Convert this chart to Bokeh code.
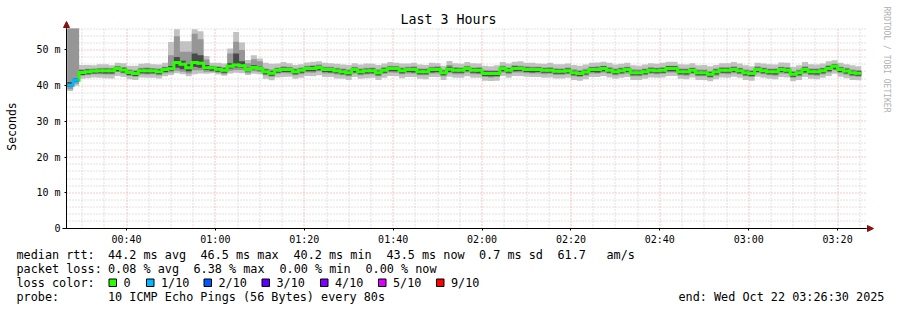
import math
from bokeh.plotting import figure
from bokeh.models import Range1d, FixedTicker, LinearAxis, Arrow, NormalHead
from bokeh.core.properties import value
from bokeh.embed import file_html
from bokeh.resources import INLINE

# ------------------------------------------------------------------ data
title_text = "Last 3 Hours"
end_time = "03:26:30"
window_hours = 3
first_step = "00:26:40"
step_seconds = 80

median_ms = [
    40.1, 41.5, 43.7, 43.9, 44.1, 44.2, 44.2, 44.2, 44.8, 44.4,
    43.7, 43.4, 44.2, 44.2, 44.2, 43.9, 44.5, 44.7, 46.5, 46.0,
    45.0, 46.5, 46.3, 45.0, 45.0, 44.6, 44.3, 45.4, 45.8, 45.6,
    44.5, 45.1, 44.8, 43.9, 43.5, 44.3, 44.5, 44.5, 43.9, 44.3,
    44.8, 44.8, 45.1, 44.5, 44.5, 44.2, 43.9, 43.6, 44.5, 43.9,
    44.2, 44.2, 43.6, 44.3, 44.8, 44.8, 44.2, 44.5, 44.5, 43.9,
    43.9, 44.5, 44.5, 43.6, 44.6, 44.3, 44.3, 44.8, 44.3, 44.3,
    43.4, 43.4, 43.4, 44.8, 44.3, 44.8, 44.8, 44.5, 44.5, 44.5,
    44.3, 44.3, 44.0, 44.0, 44.2, 43.6, 43.4, 43.8, 44.5, 44.5,
    44.8, 44.3, 43.9, 44.2, 44.5, 43.6, 43.6, 43.9, 44.3, 44.2,
    44.3, 44.8, 44.8, 43.9, 43.9, 44.3, 43.6, 43.6, 43.2, 43.9,
    44.3, 44.3, 44.5, 44.2, 43.6, 43.4, 44.5, 44.2, 43.9, 43.9,
    44.5, 44.3, 43.2, 43.6, 44.5, 43.9, 43.9, 44.2, 44.8, 45.4,
    44.5, 44.1, 43.6, 43.5]

ping_max = [
    56.0, 56.0, 45.8, 45.8, 45.7, 46.0, 46.0, 45.7, 46.4, 46.3,
    45.6, 45.6, 46.1, 46.3, 46.0, 45.9, 46.4, 52.2, 55.8, 52.4,
    52.4, 55.8, 55.2, 48.3, 46.4, 46.4, 46.2, 50.4, 55.0, 52.1,
    47.2, 48.5, 47.6, 46.4, 46.1, 46.2, 46.6, 46.3, 45.8, 46.0,
    46.5, 46.7, 46.8, 46.4, 46.3, 46.1, 45.9, 45.8, 46.3, 45.9,
    46.2, 46.1, 45.8, 46.2, 46.6, 46.4, 46.2, 46.2, 46.4, 45.9,
    45.8, 46.4, 46.3, 45.6, 46.9, 46.3, 46.1, 46.6, 46.3, 46.2,
    45.6, 45.4, 45.7, 46.6, 46.2, 46.7, 46.8, 46.4, 46.4, 46.2,
    46.1, 46.4, 46.0, 46.0, 46.2, 45.8, 45.6, 45.9, 46.4, 46.5,
    46.7, 46.4, 45.9, 46.1, 46.4, 45.7, 45.6, 45.9, 46.3, 46.1,
    46.4, 46.7, 46.7, 46.0, 45.9, 46.3, 45.7, 45.8, 45.4, 45.8,
    46.3, 46.3, 46.6, 46.2, 45.7, 45.4, 46.4, 46.2, 46.0, 45.9,
    46.5, 46.4, 45.3, 45.7, 46.6, 46.0, 45.9, 46.2, 46.8, 47.1,
    46.4, 46.0, 45.7, 45.4]

ping_p9 = [
    56.0, 56.0, 44.6, 44.7, 44.8, 44.9, 45.0, 44.9, 45.5, 45.2,
    44.5, 44.3, 45.0, 45.1, 44.9, 44.8, 45.3, 48.5, 53.8, 49.5,
    49.5, 54.5, 53.0, 47.3, 45.6, 45.4, 45.2, 49.0, 52.3, 50.0,
    46.3, 47.4, 46.8, 44.8, 44.5, 45.1, 45.4, 45.3, 44.8, 45.1,
    45.6, 45.7, 45.9, 45.3, 45.3, 45.0, 44.8, 44.5, 45.3, 44.8,
    45.0, 45.1, 44.6, 45.2, 45.6, 45.5, 45.1, 45.3, 45.4, 44.8,
    44.8, 45.3, 45.4, 44.5, 45.8, 45.2, 45.1, 45.6, 45.1, 45.2,
    44.4, 44.3, 44.3, 45.6, 45.1, 45.7, 45.6, 45.4, 45.3, 45.3,
    45.1, 45.2, 44.9, 44.8, 45.1, 44.6, 44.3, 44.7, 45.3, 45.4,
    45.6, 45.2, 44.8, 45.1, 45.3, 44.6, 44.5, 44.8, 45.2, 45.0,
    45.2, 45.6, 45.6, 44.8, 44.8, 45.1, 44.5, 44.5, 44.1, 44.8,
    45.2, 45.2, 45.4, 45.0, 44.5, 44.3, 45.4, 45.1, 44.8, 44.8,
    45.3, 45.2, 44.1, 44.5, 45.4, 44.8, 44.8, 45.0, 45.7, 46.1,
    45.3, 45.0, 44.5, 44.4]

ping_p7 = [
    41.0, 42.0, 44.3, 44.5, 44.6, 44.7, 44.7, 44.7, 45.3, 45.0,
    44.2, 44.0, 44.7, 44.8, 44.7, 44.5, 45.1, 45.5, 48.0, 47.0,
    46.0, 49.0, 48.5, 45.8, 45.5, 45.2, 44.9, 46.3, 49.0, 46.8,
    45.0, 45.7, 45.3, 44.5, 44.1, 44.8, 45.1, 45.0, 44.5, 44.8,
    45.3, 45.4, 45.6, 45.0, 45.0, 44.7, 44.5, 44.2, 45.0, 44.5,
    44.7, 44.8, 44.2, 44.9, 45.3, 45.3, 44.8, 45.0, 45.1, 44.5,
    44.5, 45.0, 45.1, 44.2, 45.3, 44.9, 44.8, 45.3, 44.9, 44.9,
    44.0, 44.0, 44.0, 45.3, 44.9, 45.4, 45.3, 45.1, 45.0, 45.1,
    44.9, 44.9, 44.6, 44.6, 44.8, 44.2, 44.0, 44.4, 45.1, 45.1,
    45.4, 44.9, 44.5, 44.8, 45.1, 44.2, 44.2, 44.5, 44.9, 44.8,
    44.9, 45.4, 45.4, 44.5, 44.5, 44.9, 44.2, 44.2, 43.8, 44.5,
    44.9, 44.9, 45.1, 44.8, 44.2, 44.0, 45.1, 44.8, 44.5, 44.5,
    45.1, 44.9, 43.8, 44.2, 45.1, 44.5, 44.5, 44.8, 45.4, 45.9,
    45.1, 44.7, 44.2, 44.1]

ping_p4 = [
    39.6, 41.0, 43.0, 43.2, 43.4, 43.5, 43.4, 43.4, 44.0, 43.7,
    43.0, 42.7, 43.5, 43.4, 43.5, 43.2, 43.8, 44.1, 45.0, 44.6,
    44.0, 45.2, 45.0, 44.4, 44.2, 43.9, 43.6, 44.8, 45.1, 45.0,
    44.0, 44.6, 44.3, 43.2, 42.8, 43.6, 43.8, 43.8, 43.2, 43.6,
    44.0, 44.0, 44.3, 43.8, 43.7, 43.5, 43.2, 42.9, 43.7, 43.2,
    43.4, 43.5, 42.9, 43.6, 44.0, 44.0, 43.5, 43.8, 43.7, 43.2,
    43.2, 43.7, 43.8, 42.9, 43.8, 43.6, 43.6, 44.0, 43.6, 43.5,
    42.7, 42.6, 42.7, 44.0, 43.6, 44.0, 44.1, 43.8, 43.7, 43.8,
    43.6, 43.6, 43.3, 43.3, 43.5, 42.9, 42.7, 43.1, 43.8, 43.7,
    44.0, 43.6, 43.2, 43.5, 43.8, 42.9, 42.9, 43.2, 43.6, 43.5,
    43.6, 44.0, 44.0, 43.2, 43.1, 43.6, 42.9, 42.9, 42.5, 43.1,
    43.6, 43.6, 43.8, 43.5, 42.9, 42.7, 43.8, 43.5, 43.2, 43.1,
    43.8, 43.6, 42.5, 42.9, 43.7, 43.2, 43.1, 43.5, 44.0, 44.6,
    43.8, 43.4, 42.9, 42.8]

ping_p2 = [
    39.0, 40.5, 42.8, 43.0, 43.2, 43.2, 43.1, 43.1, 43.8, 43.4,
    42.7, 42.5, 43.2, 43.1, 43.2, 42.9, 43.5, 43.7, 44.2, 43.9,
    43.4, 44.3, 44.3, 43.9, 43.9, 43.6, 43.2, 44.2, 44.4, 44.4,
    43.5, 44.0, 43.8, 42.9, 42.5, 43.3, 43.5, 43.4, 42.9, 43.2,
    43.7, 43.6, 44.0, 43.4, 43.4, 43.1, 42.9, 42.6, 43.4, 42.9,
    43.1, 43.2, 42.6, 43.3, 43.7, 43.6, 43.2, 43.4, 43.4, 42.9,
    42.9, 43.4, 43.4, 42.6, 43.5, 43.2, 43.2, 43.7, 43.2, 43.2,
    42.4, 42.3, 42.4, 43.7, 43.2, 43.7, 43.7, 43.5, 43.4, 43.4,
    43.2, 43.3, 43.0, 43.0, 43.2, 42.6, 42.4, 42.8, 43.4, 43.4,
    43.7, 43.3, 42.9, 43.2, 43.4, 42.6, 42.6, 42.9, 43.3, 43.2,
    43.3, 43.7, 43.7, 42.9, 42.8, 43.3, 42.6, 42.6, 42.2, 42.8,
    43.3, 43.2, 43.5, 43.2, 42.6, 42.4, 43.5, 43.2, 42.9, 42.8,
    43.4, 43.3, 42.2, 42.6, 43.4, 42.9, 42.8, 43.2, 43.7, 44.3,
    43.5, 43.1, 42.6, 42.5]

ping_min = [
    38.5, 40.0, 41.9, 42.1, 42.3, 42.2, 42.1, 42.0, 42.7, 42.4,
    41.8, 41.6, 42.3, 42.2, 42.2, 42.0, 42.6, 43.0, 43.5, 43.2,
    42.6, 43.2, 43.4, 43.3, 43.5, 43.1, 42.8, 43.4, 43.6, 43.5,
    43.0, 43.3, 43.2, 41.9, 41.5, 42.3, 42.4, 42.5, 41.9, 42.2,
    42.7, 42.6, 42.9, 42.4, 42.4, 42.0, 41.9, 41.6, 42.4, 41.9,
    42.1, 42.2, 41.6, 42.2, 42.7, 42.6, 42.1, 42.4, 42.4, 41.9,
    41.8, 42.4, 42.4, 41.6, 42.5, 42.2, 42.2, 42.6, 42.2, 42.2,
    41.4, 41.3, 41.4, 42.7, 42.2, 42.7, 42.7, 42.5, 42.4, 42.4,
    42.2, 42.3, 42.0, 42.0, 42.2, 41.6, 41.4, 41.8, 42.4, 42.4,
    42.7, 42.3, 41.9, 42.2, 42.4, 41.6, 41.6, 41.9, 42.3, 42.2,
    42.3, 42.7, 42.7, 41.9, 41.8, 42.3, 41.6, 41.6, 41.2, 41.8,
    42.3, 42.2, 42.5, 42.2, 41.6, 41.4, 42.5, 42.2, 41.9, 41.8,
    42.4, 42.3, 41.2, 41.6, 42.4, 41.9, 41.8, 42.2, 42.7, 43.3,
    42.5, 42.1, 41.6, 41.5]

lost_pings = [
    1, 1, 0, 0, 0, 0, 0, 0, 0, 0,
    0, 0, 0, 0, 0, 0, 0, 0, 0, 0,
    0, 0, 0, 0, 0, 0, 0, 0, 0, 0,
    0, 0, 0, 0, 0, 0, 0, 0, 0, 0,
    0, 0, 0, 0, 0, 0, 0, 0, 0, 0,
    0, 0, 0, 0, 0, 0, 0, 0, 0, 0,
    0, 0, 0, 0, 0, 0, 0, 0, 0, 0,
    0, 0, 0, 0, 0, 0, 0, 0, 0, 0,
    0, 0, 0, 0, 0, 0, 0, 0, 0, 0,
    0, 0, 0, 0, 0, 0, 0, 0, 0, 0,
    0, 0, 0, 0, 0, 0, 0, 0, 0, 0,
    0, 0, 0, 0, 0, 0, 0, 0, 0, 0,
    0, 0, 0, 0, 0, 0, 0, 0, 0, 0,
    0, 0, 0, 0]

x_ticks = [40, 60, 80, 100, 120, 140, 160, 180, 200]
x_tick_labels = ["00:40", "01:00", "01:20", "01:40", "02:00", "02:20", "02:40", "03:00", "03:20"]
y_ticks = [0, 10, 20, 30, 40, 50]
y_tick_labels = ["0", "10 m", "20 m", "30 m", "40 m", "50 m"]

loss_labels = ["0", "1/10", "2/10", "3/10", "4/10", "5/10", "9/10"]
loss_thresholds = [0, 1, 2, 3, 4, 5, 9]
loss_colors = ["#26ff00", "#00b8ff", "#0059ff", "#5e00ff", "#7e00ff", "#dd00ff", "#ff0000"]

rtt_stats = ["median rtt:", "44.2 ms avg", "46.5 ms max", "40.2 ms min", "43.5 ms now",
             "0.7 ms sd", "61.7", "am/s"]
loss_stats = ["packet loss:", "0.08 % avg", "6.38 % max", "0.00 % min", "0.00 % now"]
probe_stats = ["probe:", "10 ICMP Echo Pings (56 Bytes) every 80s"]
loss_heading = "loss color:"
end_text = "end: Wed Oct 22 03:26:30 2025"
y_axis_title = "Seconds"
watermark = "RRDTOOL / TOBI OETIKER"

# ------------------------------------------------------------------ layout / style
MONO = "DejaVu Sans Mono"
W, H = 897, 310
LEFT, TOP, FW, FH = 66, 28, 800, 200      # chart area inside the canvas (pixels)
ARROW = "#8b1010"
GRID_MINOR = "#c4c4c4"
GRID_MAJOR = "#f09090"
GRID_DASH = "1 2"
SMOKE = ["#c2c2c2", "#969696", "#4a4a4a"]

def hms(s):
    h, m, sec = [int(v) for v in s.split(":")]
    return h * 60 + m + sec / 60.0

X1 = hms(end_time)
X0 = X1 - window_hours * 60
Y0, Y1 = 0, 56
px = FW / (X1 - X0)
py = FH / (Y1 - Y0)

t0 = hms(first_step)
step_min = step_seconds / 60.0
n = len(median_ms)
lefts = [t0 + i * step_min for i in range(n)]
rights = [l + step_min for l in lefts]

def loss_color(k):
    c = loss_colors[0]
    for th, col in zip(loss_thresholds, loss_colors):
        if k >= th:
            c = col
    return c

step_colors = [loss_color(k) for k in lost_pings]

p = figure(width=W, height=H, min_border=0,
           x_range=Range1d(X0 - LEFT / px, X0 + (W - LEFT) / px),
           y_range=Range1d(Y0 - (H - TOP - FH) / py, Y0 + (TOP + FH) / py),
           x_axis_type=None, y_axis_type=None,
           output_backend="svg", toolbar_location=None,
           background_fill_color="white", border_fill_color="white",
           outline_line_color=None)
p.extra_x_ranges = {"px": Range1d(0, W)}
p.extra_y_ranges = {"px": Range1d(H, 0)}

x_minor = [t for t in range(30, 210, 5) if t % 20 != 0]
y_minor = [v for v in range(2, 57, 2) if v % 10 != 0]

# crisp 1px grid lines: nudge each guide to the centre of its pixel
def snap_x(t):
    c = math.floor(LEFT + (t - X0) * px) + 0.5
    return X0 + (c - LEFT) / px

def snap_y(v):
    c = math.floor(TOP + FH - (v - Y0) * py) + 0.5
    return Y0 + (TOP + FH - c) / py

gx_minor = [snap_x(t) for t in x_minor]
gx_major = [snap_x(t) for t in x_ticks]
gy_minor = [snap_y(v) for v in y_minor]
gy_major = [snap_y(v) for v in y_ticks[1:]]
p.segment(x0=gx_minor, y0=Y0, x1=gx_minor, y1=Y1, line_color=GRID_MINOR, line_width=1, line_dash=GRID_DASH)
p.segment(x0=X0, y0=gy_minor, x1=X1, y1=gy_minor, line_color=GRID_MINOR, line_width=1, line_dash=GRID_DASH)
p.segment(x0=gx_major, y0=Y0, x1=gx_major, y1=Y1, line_color=GRID_MAJOR, line_width=1, line_dash=GRID_DASH)
p.segment(x0=X0, y0=gy_major, x1=X1, y1=gy_major, line_color=GRID_MAJOR, line_width=1, line_dash=GRID_DASH)

# smoke
xs = lefts + [rights[-1]]
def ext(a):
    return list(a) + [a[-1]]
for (lo, hi), col in zip([(ping_min, ping_max), (ping_p2, ping_p9), (ping_p4, ping_p7)], SMOKE):
    p.varea_step(x=xs, y1=ext(lo), y2=ext(hi), step_mode="after", fill_color=col)

# median line coloured by loss
p.segment(x0=rights[:-1], y0=median_ms[:-1], x1=rights[:-1], y1=median_ms[1:],
          line_color=step_colors[1:], line_width=3, line_cap="square")
p.segment(x0=lefts, y0=median_ms, x1=rights, y1=median_ms,
          line_color=step_colors, line_width=3)

# axes at fixed locations
xt = FixedTicker(ticks=x_ticks, minor_ticks=x_minor)
yt = FixedTicker(ticks=y_ticks, minor_ticks=y_minor)
xaxis = LinearAxis(fixed_location=Y0, ticker=xt, bounds=(X0 - 4 / px, X1))
yaxis = LinearAxis(fixed_location=X0, ticker=yt, bounds=(Y0, Y1))
xaxis.major_label_overrides = {t: s for t, s in zip(x_ticks, x_tick_labels)}
yaxis.major_label_overrides = {t: s for t, s in zip(y_ticks, y_tick_labels)}
for ax in (xaxis, yaxis):
    ax.axis_line_color = "black"
    ax.major_tick_line_color = "black"
    ax.major_tick_out = 2
    ax.major_tick_in = 0
    ax.minor_tick_out = 0
    ax.minor_tick_in = 0
    ax.major_label_text_font = MONO
    ax.major_label_text_font_size = "10px"
    ax.major_label_text_color = "black"
xaxis.major_label_standoff = 3
yaxis.major_label_standoff = 4
p.add_layout(xaxis, "below")
p.add_layout(yaxis, "left")

# axis arrows
p.add_layout(Arrow(end=NormalHead(size=6, fill_color=ARROW, line_color=ARROW, line_width=1),
                   x_start=X0, y_start=Y1, x_end=X0, y_end=Y1 + 7 / py,
                   line_color="black", line_width=1))
p.add_layout(Arrow(end=NormalHead(size=6, fill_color=ARROW, line_color=ARROW, line_width=1),
                   x_start=X1, y_start=Y0, x_end=X1 + 7 / px, y_end=Y0,
                   line_color="black", line_width=1))

def canvas_text(xs_, ys_, texts, size, align="left", angle=0.0, color="black"):
    p.text(x=xs_, y=ys_, text=texts, x_range_name="px", y_range_name="px",
           text_font=value(MONO), text_font_size=size, text_align=align,
           text_baseline="middle", angle=angle, text_color=color)

canvas_text([448], [19], [title_text], "13.3px", align="center")
canvas_text([11], [126], [y_axis_title], "11.5px", align="center", angle=math.pi / 2)
canvas_text([886], [59], [watermark], "8px", align="center", angle=-math.pi / 2, color="#b0b0b0")

# legend rows
row_y = [254, 268, 282, 296.5]
rtt_x = [16, 107.5, 200, 293, 386, 478.5, 557, 606]
loss_x = [16, 107.5, 193, 279, 365]
canvas_text(rtt_x, [row_y[0]] * len(rtt_x), rtt_stats, "11.8px")
canvas_text(loss_x, [row_y[1]] * len(loss_x), loss_stats, "11.8px")
canvas_text([16], [row_y[2]], [loss_heading], "11.8px")
canvas_text([16, 107.5], [row_y[3]] * 2, probe_stats, "11.8px")
canvas_text([678], [row_y[3]], [end_text], "11.8px")

box_left = [108.5, 146, 203.5, 261.5, 320, 378, 436]
p.quad(left=box_left, right=[b + 7.5 for b in box_left],
       top=[row_y[2] - 3.5] * len(box_left), bottom=[row_y[2] + 4] * len(box_left),
       x_range_name="px", y_range_name="px",
       fill_color=loss_colors, line_color="black", line_width=1)
canvas_text([b + 14.5 for b in box_left], [row_y[2]] * len(box_left), loss_labels, "11.8px")

open("out.html", "w").write(file_html(p, INLINE))
